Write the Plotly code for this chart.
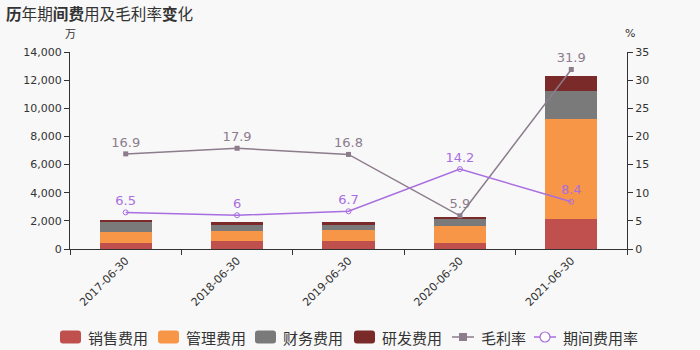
import plotly.graph_objects as go

categories = ["2017-06-30", "2018-06-30", "2019-06-30", "2020-06-30", "2021-06-30"]
sales_exp = [430, 540, 540, 430, 2140]
admin_exp = [760, 760, 780, 1190, 7090]
fin_exp = [790, 430, 400, 480, 2020]
rd_exp = [20, 190, 190, 190, 1030]
gross_margin = [16.9, 17.9, 16.8, 5.9, 31.9]
period_ratio = [6.5, 6, 6.7, 14.2, 8.4]

FONT = "DejaVu Sans, Noto Sans CJK SC, sans-serif"
CJK = "Noto Sans CJK SC, sans-serif"

W, H = 700, 350
L, R, T, B = 70, 73, 52, 101
PW, PH = W - L - R, H - T - B


def px(x):
    return (x - L) / PW


def py(y):
    return (H - B - y) / PH


bar_series = [
    ("销售费用", sales_exp, "#c0504d"),
    ("管理费用", admin_exp, "#f79646"),
    ("财务费用", fin_exp, "#7a7a7a"),
    ("研发费用", rd_exp, "#7b2a2a"),
]
GM_COL = "#8c7c8c"
PR_COL = "#a86ee0"

fig = go.Figure()
for name, vals, col in bar_series:
    fig.add_trace(go.Bar(x=categories, y=vals, name=name, marker=dict(color=col, line=dict(width=0)),
                         width=0.47))

fig.add_trace(go.Scatter(
    x=categories, y=gross_margin, name="毛利率", yaxis="y2",
    mode="lines+markers+text", text=[str(v) for v in gross_margin],
    textposition="top center", textfont=dict(color=GM_COL, size=13, family=FONT),
    line=dict(color=GM_COL, width=1.5),
    marker=dict(symbol="square", size=5, color=GM_COL),
))
fig.add_trace(go.Scatter(
    x=categories, y=period_ratio, name="期间费用率", yaxis="y2",
    mode="lines+markers+text", text=[str(v) for v in period_ratio],
    textposition="top center", textfont=dict(color=PR_COL, size=13, family=FONT),
    line=dict(color=PR_COL, width=1.5),
    marker=dict(symbol="circle-open", size=5, color=PR_COL,
                line=dict(color=PR_COL, width=1)),
))

# custom legend
shapes = []
annotations = []
LY = 337


def rounded_rect(x0, y0, x1, y1, r):
    def P(x, y):
        return f"{px(x):.5f},{py(y):.5f}"
    path = (f"M {P(x0 + r, y0)} L {P(x1 - r, y0)} Q {P(x1, y0)} {P(x1, y0 + r)} "
            f"L {P(x1, y1 - r)} Q {P(x1, y1)} {P(x1 - r, y1)} "
            f"L {P(x0 + r, y1)} Q {P(x0, y1)} {P(x0, y1 - r)} "
            f"L {P(x0, y0 + r)} Q {P(x0, y0)} {P(x0 + r, y0)} Z")
    return path


swatch_x = [60, 158, 255, 354]
for (name, _, col), sx in zip(bar_series, swatch_x):
    shapes.append(dict(type="path", xref="paper", yref="paper",
                       path=rounded_rect(sx, LY - 6.5, sx + 21, LY + 6.5, 3),
                       fillcolor=col, line=dict(width=0), layer="above"))
    annotations.append(dict(text=name, x=px(sx + 26), y=py(LY), xref="paper", yref="paper",
                            xanchor="left", yanchor="middle", showarrow=False,
                            font=dict(size=15, color="#333333", family=CJK)))

for name, lx, col, sym in [("毛利率", 452, GM_COL, "square"), ("期间费用率", 534, PR_COL, "circle")]:
    shapes.append(dict(type="line", xref="paper", yref="paper", x0=px(lx), x1=px(lx + 22),
                       y0=py(LY), y1=py(LY), line=dict(color=col, width=1.5), layer="above"))
    cx = lx + 11
    if sym == "square":
        shapes.append(dict(type="rect", xref="paper", yref="paper", x0=px(cx - 4), x1=px(cx + 4),
                           y0=py(LY + 4), y1=py(LY - 4), fillcolor=col, line=dict(width=0),
                           layer="above"))
    else:
        shapes.append(dict(type="circle", xref="paper", yref="paper", x0=px(cx - 5), x1=px(cx + 5),
                           y0=py(LY + 5), y1=py(LY - 5), fillcolor="#ffffff",
                           line=dict(color=col, width=1.2), layer="above"))
    annotations.append(dict(text=name, x=px(lx + 27), y=py(LY), xref="paper", yref="paper",
                            xanchor="left", yanchor="middle", showarrow=False,
                            font=dict(size=15, color="#333333", family=CJK)))

annotations += [
    dict(text="<b>历</b>年期<b>间费</b>用及毛利率<b>变</b>化", x=px(4), y=py(13), xref="paper",
         yref="paper", xanchor="left", yanchor="middle", showarrow=False,
         font=dict(size=15.6, color="#333333", family=CJK)),
    dict(text="万", x=px(70), y=py(33), xref="paper", yref="paper", xanchor="center",
         yanchor="middle", showarrow=False, font=dict(size=11, color="#333333", family=CJK)),
    dict(text="%", x=px(630), y=py(33), xref="paper", yref="paper", xanchor="center",
         yanchor="middle", showarrow=False, font=dict(size=11, color="#333333", family=FONT)),
]

axis_common = dict(showline=True, linecolor="#333333", linewidth=1, ticks="outside", ticklen=5,
                   tickcolor="#333333", showgrid=False, zeroline=False,
                   tickfont=dict(size=11, color="#333333", family=FONT))

fig.update_layout(
    width=W, height=H,
    barmode="stack",
    paper_bgcolor="#f8f8f8", plot_bgcolor="#f8f8f8",
    margin=dict(l=L, r=R, t=T, b=B, autoexpand=False),
    font=dict(family=FONT, color="#333333", size=11),
    showlegend=False,
    xaxis=dict(type="category", tickangle=-45, tickson="boundaries", **axis_common),
    yaxis=dict(range=[0, 14000], dtick=2000, tickformat=",d", **axis_common),
    yaxis2=dict(range=[0, 35], dtick=5, overlaying="y", side="right", **axis_common),
    shapes=shapes,
    annotations=annotations,
)

fig.write_html("out.html")
